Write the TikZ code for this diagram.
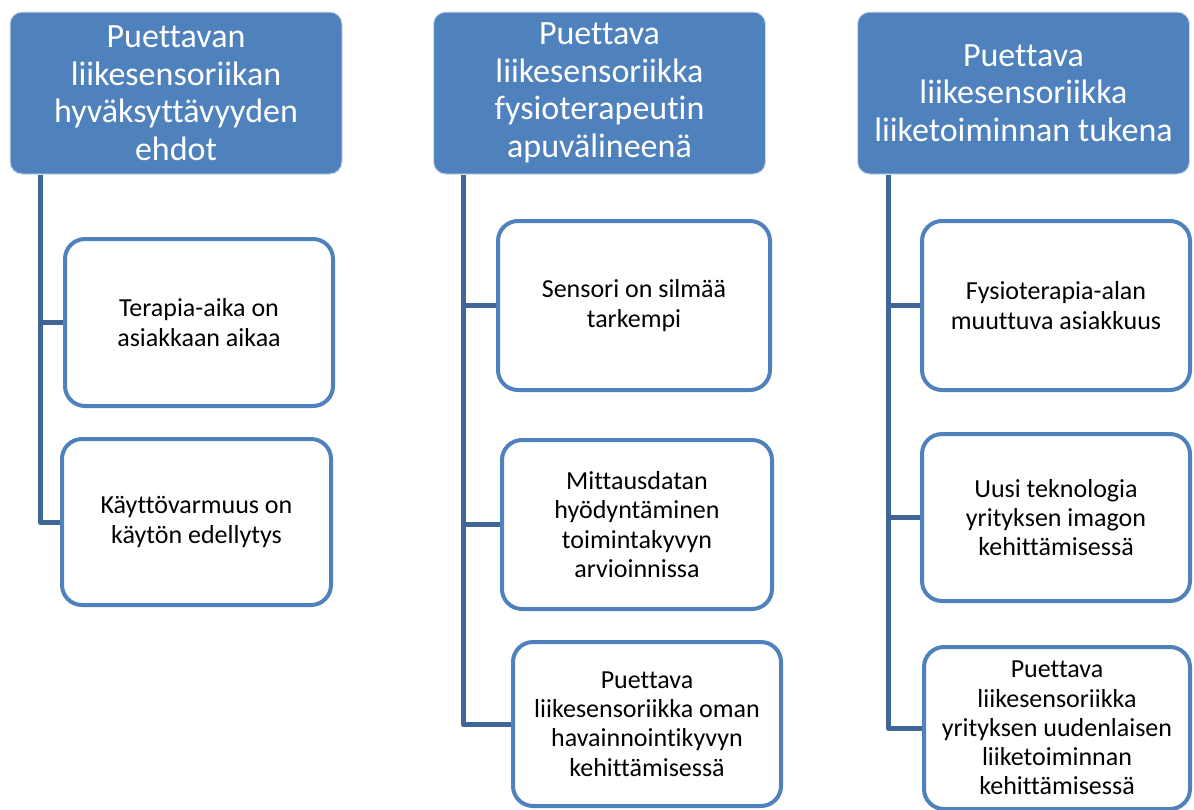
\documentclass[tikz,border=0pt]{standalone}
\usepackage{fontspec}
\setmainfont{Carlito}[Ligatures=NoCommon]
\definecolor{accent}{HTML}{4F81BD}
\definecolor{connline}{HTML}{3F6696}
\begin{document}
\begin{tikzpicture}[x=1pt,y=1pt,
  header/.style={fill=accent, draw=white!70!accent, line width=1pt, rounded corners=12pt,
    minimum width=332pt, minimum height=162pt, inner sep=0pt, align=center, text=white,
    font=\fontsize{34}{37.5}\selectfont},
  child/.style={fill=white, draw=accent, line width=4pt, rounded corners=20pt,
    inner sep=0pt, align=center, text=black, font=\fontsize{26}{29.2}\selectfont},
  conn/.style={draw=connline, line width=5pt, line join=round}
]
\useasboundingbox (0,0) rectangle (1194,-809);

% headers
\node[header] (h1) at (176,-93) {Puettavan\\liikesensoriikan\\hyväksyttävyyden\\ehdot};
\node[header] (h2) at (599.5,-93) {Puettava\\liikesensoriikka\\fysioterapeutin\\apuvälineenä};
\node[header] (h3) at (1023.5,-93) {Puettava\\liikesensoriikka\\liiketoiminnan tukena};

% children column 1
\node[child, minimum width=268pt, minimum height=167pt] (a1) at (199,-322.5) {Terapia-aika on\\asiakkaan aikaa};
\node[child, minimum width=269pt, minimum height=166pt] (a2) at (196.5,-522) {Käyttövarmuus on\\käytön edellytys};

% children column 2
\node[child, minimum width=272pt, minimum height=169pt] (b1) at (634,-305.5) {Sensori on silmää\\tarkempi};
\node[child, minimum width=270pt, minimum height=169pt] (b2) at (637,-524.5) {Mittausdatan\\hyödyntäminen\\toimintakyvyn\\arvioinnissa};
\node[child, minimum width=268pt, minimum height=164pt] (b3) at (647,-724) {Puettava\\liikesensoriikka oman\\havainnointikyvyn\\kehittämisessä};

% children column 3
\node[child, minimum width=268pt, minimum height=169pt] (c1) at (1056,-305.5) {Fysioterapia-alan\\muuttuva asiakkuus};
\node[child, minimum width=268pt, minimum height=167pt] (c2) at (1056,-517.5) {Uusi teknologia\\yrityksen imagon\\kehittämisessä};
\node[child, minimum width=266pt, minimum height=162pt] (c3) at (1057,-728) {Puettava\\liikesensoriikka\\yrityksen uudenlaisen\\liiketoiminnan\\kehittämisessä};

% connector start points
\coordinate (t1) at (40,-175);
\coordinate (t2) at (463,-175);
\coordinate (t3) at (888,-175);

% connectors
\draw[conn] (t1) |- (a1.west);
\draw[conn] (t1) |- (a2.west);
\draw[conn] (t2) |- (b1.west);
\draw[conn] (t2) |- (b2.west);
\draw[conn] (t2) |- (b3.west);
\draw[conn] (t3) |- (c1.west);
\draw[conn] (t3) |- (c2.west);
\draw[conn] (t3) |- (c3.west);
\end{tikzpicture}
\end{document}
